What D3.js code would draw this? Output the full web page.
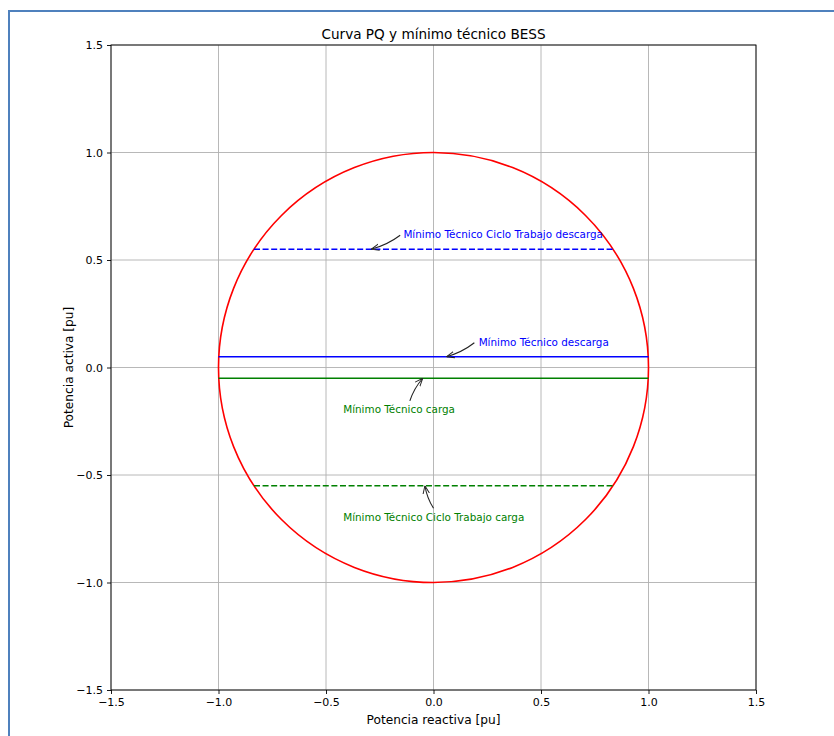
<!DOCTYPE html>
<html>
<head>
<meta charset="utf-8">
<script src="https://cdn.jsdelivr.net/npm/d3@7"></script>
<style>
  body { margin: 0; background: #fff; }
  svg { display: block; font-family: "DejaVu Sans", sans-serif; }
</style>
</head>
<body>
<div id="chart"></div>
<script>
// data
var xTicks = [-1.5, -1.0, -0.5, 0.0, 0.5, 1.0, 1.5];
var yTicks = [-1.5, -1.0, -0.5, 0.0, 0.5, 1.0, 1.5];
var capRadius = 1.0;

var lineNames = ['ciclo descarga', 'descarga', 'carga', 'ciclo carga'];
var lineLevels = [0.55, 0.05, -0.05, -0.55];
var lineX0 = [-0.835, -1.0, -1.0, -0.835];
var lineX1 = [0.835, 1.0, 1.0, 0.835];
var lineColors = ['blue', 'blue', 'green', 'green'];
var lineDashed = [true, false, false, true];

var noteTexts = ['Mínimo Técnico Ciclo Trabajo descarga', 'Mínimo Técnico descarga',
                 'Mínimo Técnico carga', 'Mínimo Técnico Ciclo Trabajo carga'];
var noteXY = [[-0.29, 0.55], [0.06, 0.05], [-0.05, -0.05], [-0.04, -0.55]];
var noteText = [[-0.14, 0.603], [0.21, 0.1], [-0.42, -0.212], [-0.42, -0.713]];
var noteTail = [[-0.155, 0.615], [0.19, 0.115], [-0.11, -0.155], [0.0, -0.655]];

var W = 834, H = 736;

var svg = d3.select('#chart').append('svg')
    .attr('width', W)
    .attr('height', H);

// outer frame of the screenshot
svg.append('rect')
    .attr('x', 9).attr('y', 11)
    .attr('width', W + 20).attr('height', H + 20)
    .attr('fill', 'none')
    .attr('stroke', '#4f81bd')
    .attr('stroke-width', 2);

var x = d3.scaleLinear().domain([-1.5, 1.5]).range([111, 756]);
var y = d3.scaleLinear().domain([-1.5, 1.5]).range([690, 45]);

var g = svg.append('g');

// grid
g.selectAll('line.gx').data(xTicks).enter().append('line')
    .attr('x1', function (d) { return x(d); })
    .attr('x2', function (d) { return x(d); })
    .attr('y1', y(-1.5)).attr('y2', y(1.5))
    .attr('stroke', '#b0b0b0').attr('stroke-width', 0.9);
g.selectAll('line.gy').data(yTicks).enter().append('line')
    .attr('y1', function (d) { return y(d); })
    .attr('y2', function (d) { return y(d); })
    .attr('x1', x(-1.5)).attr('x2', x(1.5))
    .attr('stroke', '#b0b0b0').attr('stroke-width', 0.9);

// capability circle
g.append('ellipse')
    .attr('cx', x(0)).attr('cy', y(0))
    .attr('rx', x(capRadius) - x(0))
    .attr('ry', y(0) - y(capRadius))
    .attr('fill', 'none')
    .attr('stroke', 'red')
    .attr('stroke-width', 1.6);

// minimum lines
g.selectAll('line.lvl').data(lineLevels).enter().append('line')
    .attr('x1', function (d, i) { return x(lineX0[i]); })
    .attr('x2', function (d, i) { return x(lineX1[i]); })
    .attr('y1', function (d) { return y(d); })
    .attr('y2', function (d) { return y(d); })
    .attr('stroke', function (d, i) { return lineColors[i]; })
    .attr('stroke-width', 1.6)
    .attr('stroke-dasharray', function (d, i) { return lineDashed[i] ? '6,2.6' : null; });

// annotations
svg.append('defs').append('marker')
    .attr('id', 'arr')
    .attr('viewBox', '0 0 10 10')
    .attr('refX', 10).attr('refY', 5)
    .attr('markerWidth', 8).attr('markerHeight', 8)
    .attr('markerUnits', 'userSpaceOnUse')
    .attr('orient', 'auto')
  .append('path')
    .attr('d', 'M0,1L10,5L0,9')
    .attr('fill', 'none')
    .attr('stroke', '#222')
    .attr('stroke-width', 1.2);

noteTexts.forEach(function (t, i) {
  var x1 = x(noteTail[i][0]), y1 = y(noteTail[i][1]);
  var x2 = x(noteXY[i][0]), y2 = y(noteXY[i][1]);
  var mx = (x1 + x2) / 2, my = (y1 + y2) / 2;
  var dx = x2 - x1, dy = y2 - y1;
  var cx = mx + dy * 0.1, cy = my - dx * 0.1;
  g.append('path')
      .attr('d', 'M' + x1 + ',' + y1 + 'Q' + cx + ',' + cy + ' ' + x2 + ',' + y2)
      .attr('fill', 'none')
      .attr('stroke', '#222')
      .attr('stroke-width', 1.1)
      .attr('marker-end', 'url(#arr)');
  g.append('text')
      .attr('x', x(noteText[i][0]))
      .attr('y', y(noteText[i][1]))
      .attr('fill', lineColors[i])
      .style('font-size', '10.4px')
      .text(t);
});

// axes
var fmt = function (d) { return d3.format('.1f')(d).replace('-', '\u2212'); };
var xAxis = svg.append('g')
    .attr('transform', 'translate(0,' + y(-1.5) + ')')
    .call(d3.axisBottom(x).tickValues(xTicks).tickFormat(fmt).tickSizeOuter(0).tickSize(4).tickPadding(4.5));
var yAxis = svg.append('g')
    .attr('transform', 'translate(' + x(-1.5) + ',0)')
    .call(d3.axisLeft(y).tickValues(yTicks).tickFormat(fmt).tickSizeOuter(0).tickSize(4).tickPadding(4));
[xAxis, yAxis].forEach(function (a) {
  a.select('.domain').remove();
  a.selectAll('text').style('font-size', '11px').style('font-family', '"DejaVu Sans", sans-serif').attr('fill', '#000');
  a.selectAll('line').attr('stroke', '#000').attr('stroke-width', 0.9);
});

// plot frame
svg.append('rect')
    .attr('x', x(-1.5)).attr('y', y(1.5))
    .attr('width', x(1.5) - x(-1.5))
    .attr('height', y(-1.5) - y(1.5))
    .attr('fill', 'none')
    .attr('stroke', '#000')
    .attr('stroke-width', 0.9);

// labels
svg.append('text')
    .attr('x', (x(-1.5) + x(1.5)) / 2).attr('y', 38.5)
    .attr('text-anchor', 'middle')
    .style('font-size', '13.6px')
    .text('Curva PQ y mínimo técnico BESS');
svg.append('text')
    .attr('x', (x(-1.5) + x(1.5)) / 2).attr('y', 724)
    .attr('text-anchor', 'middle')
    .style('font-size', '12.2px')
    .text('Potencia reactiva [pu]');
svg.append('text')
    .attr('transform', 'translate(73,' + (y(-1.5) + y(1.5)) / 2 + ') rotate(-90)')
    .attr('text-anchor', 'middle')
    .style('font-size', '12.2px')
    .text('Potencia activa [pu]');
</script>
</body>
</html>
